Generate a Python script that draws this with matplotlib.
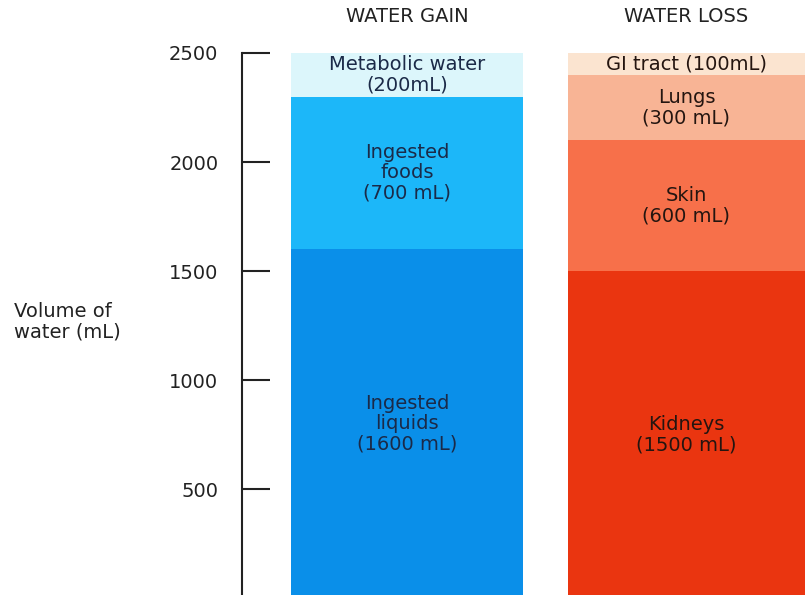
import matplotlib
matplotlib.use('Agg')
import matplotlib.pyplot as plt
import matplotlib.transforms as mtransforms

# water balance, stacked from the bottom up
gain_labels = ['Ingested\nliquids\n(1600 mL)', 'Ingested\nfoods\n(700 mL)', 'Metabolic water\n(200mL)']
gain_values = [1600, 700, 200]
gain_colors = ['#0a8fe9', '#1cb7f9', '#dcf6fb']

loss_labels = ['Kidneys\n(1500 mL)', 'Skin\n(600 mL)', 'Lungs\n(300 mL)', 'GI tract (100mL)']
loss_values = [1500, 600, 300, 100]
loss_colors = ['#ea3510', '#f7704a', '#f8b495', '#fbe4d0']

columns = ['WATER GAIN', 'WATER LOSS']
yticks = [500, 1000, 1500, 2000, 2500]

plt.rcParams['font.family'] = ['DejaVu Sans']
fs = 14

fig = plt.figure(figsize=(8.08, 5.95), dpi=100)
ax = fig.add_axes([242/808, 0, 566/808, 542/595])


def stack(x, w, values, labels, colors, txtcolor):
    bottom = 0
    for v, lab, c in zip(values, labels, colors):
        ax.bar(x, v, bottom=bottom, width=w, color=c, linewidth=0)
        ax.text(x, bottom + v/2, lab, ha='center', va='center', fontsize=fs,
                color=txtcolor, linespacing=1.08)
        bottom += v


stack(0, 0.83, gain_values, gain_labels, gain_colors, '#1b2a48')
stack(1, 0.85, loss_values, loss_labels, loss_colors, '#241510')

ax.set_xlim(-0.590, 1.435)
ax.set_ylim(14, 2500)

# column headings above the bars
trans = mtransforms.blended_transform_factory(ax.transData, fig.transFigure)
for i, name in enumerate(columns):
    ax.text(i, 1 - 16/595, name, transform=trans, ha='center', va='center',
            fontsize=fs, color='#222222')

fig.text(14/808, 1 - 322/595, 'Volume of\nwater (mL)', ha='left', va='center',
         fontsize=fs, color='#222222', linespacing=1.1)

ax.set_yticks(yticks)
ax.set_xticks([])
ax.tick_params(axis='y', direction='in', length=20, width=1.5, pad=17,
               labelsize=fs, colors='#222222')
for s in ['top', 'right', 'bottom']:
    ax.spines[s].set_visible(False)
ax.spines['left'].set_linewidth(1.5)
ax.spines['left'].set_color('#222222')
ax.patch.set_visible(False)

fig.savefig('out.png', dpi=100)
